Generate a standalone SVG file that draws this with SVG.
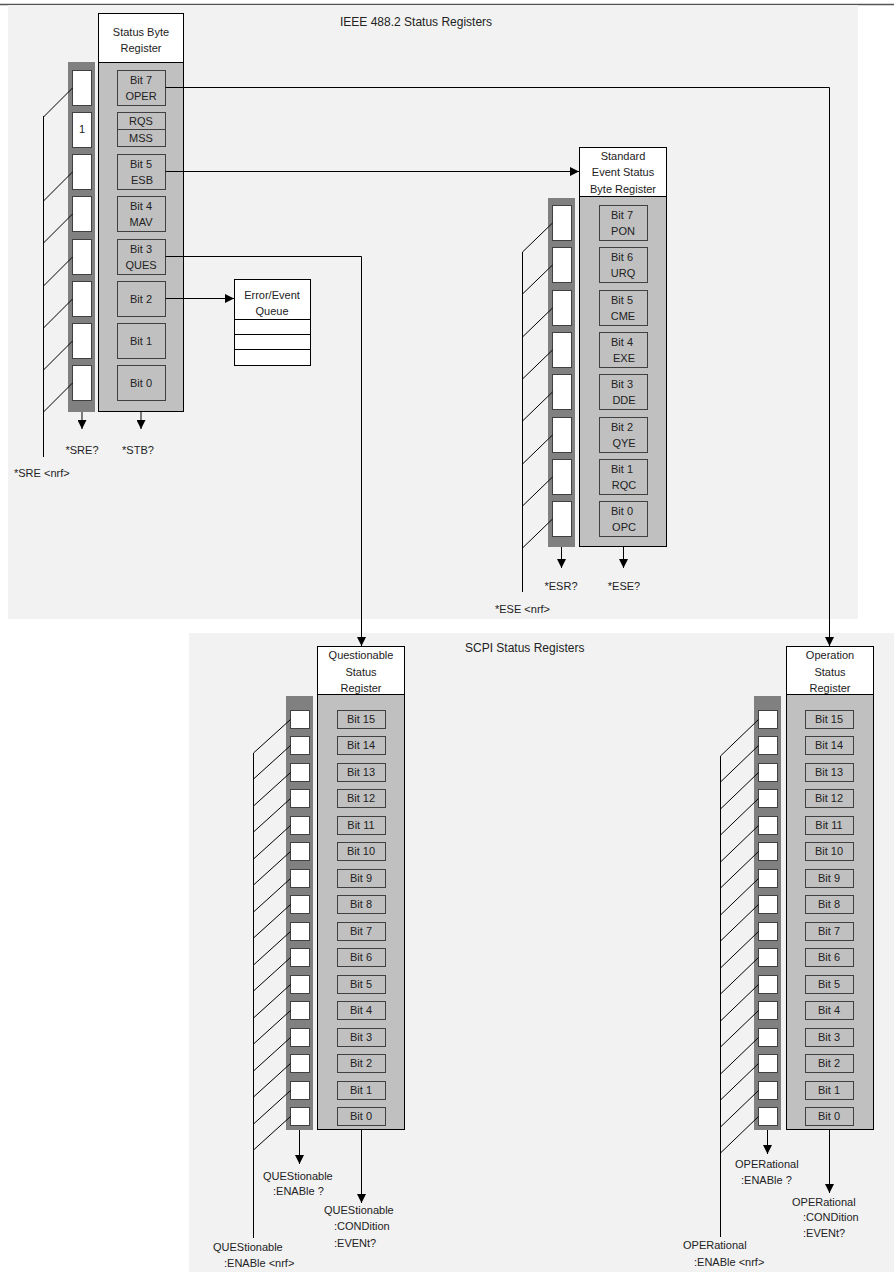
<svg xmlns="http://www.w3.org/2000/svg" width="894" height="1272" viewBox="0 0 894 1272">
<defs>
<style>
text{font-family:"Liberation Sans",Arial,sans-serif;font-size:11px;fill:#222}
.c{text-anchor:middle}
.title{font-size:12px}
.panel{fill:#f2f2f2;stroke:none}
.hdr{fill:#fff;stroke:#000;stroke-width:1}
.body{fill:#c0c0c0;stroke:#000;stroke-width:1}
.en{fill:#808080;stroke:none}
.ebox{fill:#fff;stroke:#404040;stroke-width:1}
.bit{fill:#c0c0c0;stroke:#404040;stroke-width:1}
.ln{fill:none;stroke:#000;stroke-width:1}
</style>
<marker id="ah" viewBox="0 0 10 10" refX="10" refY="5" markerWidth="9" markerHeight="9" markerUnits="userSpaceOnUse" orient="auto"><path d="M0,0 L10,5 L0,10 z" fill="#000"/></marker>
</defs>
<rect width="894" height="1272" fill="#fff"/>
<line x1="0" y1="4.5" x2="894" y2="4.5" stroke="#555" stroke-width="1.5"/>
<g id="panel-ieee">
<rect class="panel" x="8" y="5" width="850" height="614"/>
<text class="title" x="340" y="26">IEEE 488.2 Status Registers</text>
</g>
<g id="panel-scpi">
<rect class="panel" x="189" y="633" width="705" height="639"/>
<text class="title" x="465" y="652">SCPI Status Registers</text>
</g>

<g id="status-byte">
<rect class="hdr" x="98.5" y="13.5" width="85" height="49"/>
<text class="c" x="141" y="36">Status Byte</text>
<text class="c" x="141" y="52">Register</text>
<rect class="body" x="98.5" y="62.5" width="85" height="349"/>
<rect class="en" x="68" y="62" width="27" height="350"/>
<g>
<rect class="ebox" x="72.5" y="70.5" width="19" height="35"/>
<rect class="ebox" x="72.5" y="112.5" width="19" height="35"/>
<text class="c" x="82" y="133">1</text>
<rect class="ebox" x="72.5" y="154.5" width="19" height="35"/>
<rect class="ebox" x="72.5" y="196.5" width="19" height="35"/>
<rect class="ebox" x="72.5" y="239.5" width="19" height="35"/>
<rect class="ebox" x="72.5" y="281.5" width="19" height="35"/>
<rect class="ebox" x="72.5" y="323.5" width="19" height="35"/>
<rect class="ebox" x="72.5" y="365.5" width="19" height="35"/>
</g>
<rect class="bit" x="117.5" y="70.5" width="48" height="35"/>
<text class="c" x="141" y="84">Bit 7</text><text class="c" x="141" y="100">OPER</text>
<rect class="bit" x="117.5" y="112.5" width="48" height="17"/>
<rect class="bit" x="117.5" y="129.5" width="48" height="17"/>
<text class="c" x="141" y="125">RQS</text><text class="c" x="141" y="142">MSS</text>
<rect class="bit" x="117.5" y="154.5" width="48" height="35"/>
<text class="c" x="141" y="168">Bit 5</text><text class="c" x="142" y="184">ESB</text>
<rect class="bit" x="117.5" y="196.5" width="48" height="35"/>
<text class="c" x="141" y="210">Bit 4</text><text class="c" x="141" y="226">MAV</text>
<rect class="bit" x="117.5" y="239.5" width="48" height="35"/>
<text class="c" x="141" y="253">Bit 3</text><text class="c" x="141" y="269">QUES</text>
<rect class="bit" x="117.5" y="281.5" width="48" height="35"/>
<text class="c" x="141" y="303">Bit 2</text>
<rect class="bit" x="117.5" y="323.5" width="48" height="35"/>
<text class="c" x="141" y="345">Bit 1</text>
<rect class="bit" x="117.5" y="365.5" width="48" height="35"/>
<text class="c" x="141" y="387">Bit 0</text>
<text class="c" x="82" y="454">*SRE?</text>
<text class="c" x="138" y="454">*STB?</text>
<text x="14" y="477">*SRE &lt;nrf&gt;</text>
</g>

<g id="error-queue">
<rect class="hdr" x="234.5" y="279.5" width="76" height="86"/>
<text class="c" x="272" y="299">Error/Event</text>
<text class="c" x="272" y="315">Queue</text>
<line class="ln" x1="234.5" y1="319.5" x2="310.5" y2="319.5"/>
<line class="ln" x1="234.5" y1="334.5" x2="310.5" y2="334.5"/>
<line class="ln" x1="234.5" y1="349.5" x2="310.5" y2="349.5"/>
</g>

<g id="std-event">
<rect class="hdr" x="579.5" y="147.5" width="87" height="49"/>
<text class="c" x="623" y="160">Standard</text>
<text class="c" x="623" y="176">Event Status</text>
<text class="c" x="623" y="193">Byte Register</text>
<rect class="body" x="579.5" y="196.5" width="87" height="350"/>
<rect class="en" x="548" y="198" width="27" height="349"/>
<rect class="ebox" x="552.5" y="205.5" width="19" height="35"/>
<rect class="ebox" x="552.5" y="247.5" width="19" height="35"/>
<rect class="ebox" x="552.5" y="290.5" width="19" height="35"/>
<rect class="ebox" x="552.5" y="332.5" width="19" height="35"/>
<rect class="ebox" x="552.5" y="374.5" width="19" height="35"/>
<rect class="ebox" x="552.5" y="417.5" width="19" height="35"/>
<rect class="ebox" x="552.5" y="459.5" width="19" height="35"/>
<rect class="ebox" x="552.5" y="501.5" width="19" height="35"/>
<rect class="bit" x="599.5" y="205.5" width="48" height="35"/>
<text class="c" x="622" y="219">Bit 7</text><text class="c" x="623" y="235">PON</text>
<rect class="bit" x="599.5" y="247.5" width="48" height="35"/>
<text class="c" x="622" y="261">Bit 6</text><text class="c" x="623" y="277">URQ</text>
<rect class="bit" x="599.5" y="290.5" width="48" height="35"/>
<text class="c" x="622" y="304">Bit 5</text><text class="c" x="623" y="320">CME</text>
<rect class="bit" x="599.5" y="332.5" width="48" height="35"/>
<text class="c" x="622" y="346">Bit 4</text><text class="c" x="624" y="362">EXE</text>
<rect class="bit" x="599.5" y="374.5" width="48" height="35"/>
<text class="c" x="622" y="388">Bit 3</text><text class="c" x="624" y="404">DDE</text>
<rect class="bit" x="599.5" y="417.5" width="48" height="35"/>
<text class="c" x="622" y="431">Bit 2</text><text class="c" x="624" y="447">QYE</text>
<rect class="bit" x="599.5" y="459.5" width="48" height="35"/>
<text class="c" x="622" y="473">Bit 1</text><text class="c" x="624" y="489">RQC</text>
<rect class="bit" x="599.5" y="501.5" width="48" height="35"/>
<text class="c" x="622" y="515">Bit 0</text><text class="c" x="624" y="531">OPC</text>
<text class="c" x="561" y="590">*ESR?</text>
<text class="c" x="624" y="590">*ESE?</text>
<text x="495" y="613">*ESE &lt;nrf&gt;</text>
</g>

<g id="questionable">
<rect class="hdr" x="317.5" y="646.5" width="87" height="48"/>
<text class="c" x="361" y="659">Questionable</text>
<text class="c" x="361" y="676">Status</text>
<text class="c" x="361" y="692">Register</text>
<rect class="body" x="317.5" y="694.5" width="87" height="435"/>
<rect class="en" x="286" y="696" width="27" height="434"/>
<g id="q-bits">
<rect class="ebox" x="290.5" y="710.5" width="19" height="18"/><rect class="bit" x="337.5" y="710.5" width="48" height="18"/><text class="c" x="361" y="723">Bit 15</text>
<rect class="ebox" x="290.5" y="736.5" width="19" height="18"/><rect class="bit" x="337.5" y="736.5" width="48" height="18"/><text class="c" x="361" y="749">Bit 14</text>
<rect class="ebox" x="290.5" y="763.5" width="19" height="18"/><rect class="bit" x="337.5" y="763.5" width="48" height="18"/><text class="c" x="361" y="776">Bit 13</text>
<rect class="ebox" x="290.5" y="789.5" width="19" height="18"/><rect class="bit" x="337.5" y="789.5" width="48" height="18"/><text class="c" x="361" y="802">Bit 12</text>
<rect class="ebox" x="290.5" y="816.5" width="19" height="18"/><rect class="bit" x="337.5" y="816.5" width="48" height="18"/><text class="c" x="361" y="829">Bit 11</text>
<rect class="ebox" x="290.5" y="842.5" width="19" height="18"/><rect class="bit" x="337.5" y="842.5" width="48" height="18"/><text class="c" x="361" y="855">Bit 10</text>
<rect class="ebox" x="290.5" y="869.5" width="19" height="18"/><rect class="bit" x="337.5" y="869.5" width="48" height="18"/><text class="c" x="361" y="882">Bit 9</text>
<rect class="ebox" x="290.5" y="895.5" width="19" height="18"/><rect class="bit" x="337.5" y="895.5" width="48" height="18"/><text class="c" x="361" y="908">Bit 8</text>
<rect class="ebox" x="290.5" y="922.5" width="19" height="18"/><rect class="bit" x="337.5" y="922.5" width="48" height="18"/><text class="c" x="361" y="935">Bit 7</text>
<rect class="ebox" x="290.5" y="948.5" width="19" height="18"/><rect class="bit" x="337.5" y="948.5" width="48" height="18"/><text class="c" x="361" y="961">Bit 6</text>
<rect class="ebox" x="290.5" y="975.5" width="19" height="18"/><rect class="bit" x="337.5" y="975.5" width="48" height="18"/><text class="c" x="361" y="988">Bit 5</text>
<rect class="ebox" x="290.5" y="1001.5" width="19" height="18"/><rect class="bit" x="337.5" y="1001.5" width="48" height="18"/><text class="c" x="361" y="1014">Bit 4</text>
<rect class="ebox" x="290.5" y="1028.5" width="19" height="18"/><rect class="bit" x="337.5" y="1028.5" width="48" height="18"/><text class="c" x="361" y="1041">Bit 3</text>
<rect class="ebox" x="290.5" y="1054.5" width="19" height="18"/><rect class="bit" x="337.5" y="1054.5" width="48" height="18"/><text class="c" x="361" y="1067">Bit 2</text>
<rect class="ebox" x="290.5" y="1081.5" width="19" height="18"/><rect class="bit" x="337.5" y="1081.5" width="48" height="18"/><text class="c" x="361" y="1094">Bit 1</text>
<rect class="ebox" x="290.5" y="1107.5" width="19" height="18"/><rect class="bit" x="337.5" y="1107.5" width="48" height="18"/><text class="c" x="361" y="1120">Bit 0</text>
</g>
<text x="263" y="1180">QUEStionable</text>
<text x="273" y="1195">:ENABle ?</text>
<text x="324" y="1214">QUEStionable</text>
<text x="334" y="1230">:CONDition</text>
<text x="334" y="1247">:EVENt?</text>
<text x="213" y="1251">QUEStionable</text>
<text x="224" y="1267">:ENABle &lt;nrf&gt;</text>
</g>

<g id="operation">
<rect class="hdr" x="786.5" y="646.5" width="87" height="48"/>
<text class="c" x="830" y="659">Operation</text>
<text class="c" x="830" y="676">Status</text>
<text class="c" x="830" y="692">Register</text>
<rect class="body" x="786.5" y="694.5" width="87" height="435"/>
<rect class="en" x="754" y="696" width="27" height="434"/>
<g id="o-bits">
<rect class="ebox" x="758.5" y="710.5" width="19" height="18"/><rect class="bit" x="805.5" y="710.5" width="48" height="18"/><text class="c" x="829" y="723">Bit 15</text>
<rect class="ebox" x="758.5" y="736.5" width="19" height="18"/><rect class="bit" x="805.5" y="736.5" width="48" height="18"/><text class="c" x="829" y="749">Bit 14</text>
<rect class="ebox" x="758.5" y="763.5" width="19" height="18"/><rect class="bit" x="805.5" y="763.5" width="48" height="18"/><text class="c" x="829" y="776">Bit 13</text>
<rect class="ebox" x="758.5" y="789.5" width="19" height="18"/><rect class="bit" x="805.5" y="789.5" width="48" height="18"/><text class="c" x="829" y="802">Bit 12</text>
<rect class="ebox" x="758.5" y="816.5" width="19" height="18"/><rect class="bit" x="805.5" y="816.5" width="48" height="18"/><text class="c" x="829" y="829">Bit 11</text>
<rect class="ebox" x="758.5" y="842.5" width="19" height="18"/><rect class="bit" x="805.5" y="842.5" width="48" height="18"/><text class="c" x="829" y="855">Bit 10</text>
<rect class="ebox" x="758.5" y="869.5" width="19" height="18"/><rect class="bit" x="805.5" y="869.5" width="48" height="18"/><text class="c" x="829" y="882">Bit 9</text>
<rect class="ebox" x="758.5" y="895.5" width="19" height="18"/><rect class="bit" x="805.5" y="895.5" width="48" height="18"/><text class="c" x="829" y="908">Bit 8</text>
<rect class="ebox" x="758.5" y="922.5" width="19" height="18"/><rect class="bit" x="805.5" y="922.5" width="48" height="18"/><text class="c" x="829" y="935">Bit 7</text>
<rect class="ebox" x="758.5" y="948.5" width="19" height="18"/><rect class="bit" x="805.5" y="948.5" width="48" height="18"/><text class="c" x="829" y="961">Bit 6</text>
<rect class="ebox" x="758.5" y="975.5" width="19" height="18"/><rect class="bit" x="805.5" y="975.5" width="48" height="18"/><text class="c" x="829" y="988">Bit 5</text>
<rect class="ebox" x="758.5" y="1001.5" width="19" height="18"/><rect class="bit" x="805.5" y="1001.5" width="48" height="18"/><text class="c" x="829" y="1014">Bit 4</text>
<rect class="ebox" x="758.5" y="1028.5" width="19" height="18"/><rect class="bit" x="805.5" y="1028.5" width="48" height="18"/><text class="c" x="829" y="1041">Bit 3</text>
<rect class="ebox" x="758.5" y="1054.5" width="19" height="18"/><rect class="bit" x="805.5" y="1054.5" width="48" height="18"/><text class="c" x="829" y="1067">Bit 2</text>
<rect class="ebox" x="758.5" y="1081.5" width="19" height="18"/><rect class="bit" x="805.5" y="1081.5" width="48" height="18"/><text class="c" x="829" y="1094">Bit 1</text>
<rect class="ebox" x="758.5" y="1107.5" width="19" height="18"/><rect class="bit" x="805.5" y="1107.5" width="48" height="18"/><text class="c" x="829" y="1120">Bit 0</text>
</g>
<text x="735" y="1168">OPERational</text>
<text x="741" y="1184">:ENABle ?</text>
<text x="792" y="1206">OPERational</text>
<text x="803" y="1221">:CONDition</text>
<text x="803" y="1237">:EVENt?</text>
<text x="683" y="1249">OPERational</text>
<text x="694" y="1266">:ENABle &lt;nrf&gt;</text>
</g>

<g id="connectors">
<polyline class="ln" points="165.5,87.5 829.5,87.5 829.5,646" marker-end="url(#ah)"/>
<polyline class="ln" points="165.5,171.5 579,171.5" marker-end="url(#ah)"/>
<polyline class="ln" points="165.5,256.5 361.5,256.5 361.5,646" marker-end="url(#ah)"/>
<polyline class="ln" points="165.5,298.5 234,298.5" marker-end="url(#ah)"/>
<line class="ln" x1="82" y1="412" x2="82" y2="429" marker-end="url(#ah)"/>
<line class="ln" x1="141" y1="412" x2="141" y2="429" marker-end="url(#ah)"/>
<line class="ln" x1="561.5" y1="547" x2="561.5" y2="568" marker-end="url(#ah)"/>
<line class="ln" x1="623.5" y1="547" x2="623.5" y2="568" marker-end="url(#ah)"/>
<line class="ln" x1="299.5" y1="1130" x2="299.5" y2="1164" marker-end="url(#ah)"/>
<line class="ln" x1="361.5" y1="1130" x2="361.5" y2="1203" marker-end="url(#ah)"/>
<line class="ln" x1="767.5" y1="1130" x2="767.5" y2="1154" marker-end="url(#ah)"/>
<line class="ln" x1="829.5" y1="1130" x2="829.5" y2="1193" marker-end="url(#ah)"/>
<g id="sre-lines">
<line class="ln" x1="43.5" y1="116" x2="43.5" y2="457"/>
<line class="ln" x1="43.5" y1="117" x2="72.5" y2="88"/>
<line class="ln" x1="43.5" y1="201" x2="72.5" y2="172"/>
<line class="ln" x1="43.5" y1="243" x2="72.5" y2="214"/>
<line class="ln" x1="43.5" y1="286" x2="72.5" y2="257"/>
<line class="ln" x1="43.5" y1="328" x2="72.5" y2="299"/>
<line class="ln" x1="43.5" y1="370" x2="72.5" y2="341"/>
<line class="ln" x1="43.5" y1="412" x2="72.5" y2="383"/>
</g>
<g id="ese-lines">
<line class="ln" x1="522.5" y1="252" x2="522.5" y2="592"/>
<line class="ln" x1="522.5" y1="252" x2="552.5" y2="223"/>
<line class="ln" x1="522.5" y1="294" x2="552.5" y2="265"/>
<line class="ln" x1="522.5" y1="337" x2="552.5" y2="308"/>
<line class="ln" x1="522.5" y1="379" x2="552.5" y2="350"/>
<line class="ln" x1="522.5" y1="421" x2="552.5" y2="392"/>
<line class="ln" x1="522.5" y1="464" x2="552.5" y2="435"/>
<line class="ln" x1="522.5" y1="506" x2="552.5" y2="477"/>
<line class="ln" x1="522.5" y1="548" x2="552.5" y2="519"/>
</g>
<g id="ques-lines">
<line class="ln" x1="253.5" y1="753" x2="253.5" y2="1238"/>
<line class="ln" x1="253.5" y1="753" x2="290.5" y2="719.5"/>
<line class="ln" x1="253.5" y1="779" x2="290.5" y2="745.5"/>
<line class="ln" x1="253.5" y1="806" x2="290.5" y2="772.5"/>
<line class="ln" x1="253.5" y1="832" x2="290.5" y2="798.5"/>
<line class="ln" x1="253.5" y1="859" x2="290.5" y2="825.5"/>
<line class="ln" x1="253.5" y1="885" x2="290.5" y2="851.5"/>
<line class="ln" x1="253.5" y1="912" x2="290.5" y2="878.5"/>
<line class="ln" x1="253.5" y1="938" x2="290.5" y2="904.5"/>
<line class="ln" x1="253.5" y1="965" x2="290.5" y2="931.5"/>
<line class="ln" x1="253.5" y1="991" x2="290.5" y2="957.5"/>
<line class="ln" x1="253.5" y1="1018" x2="290.5" y2="984.5"/>
<line class="ln" x1="253.5" y1="1044" x2="290.5" y2="1010.5"/>
<line class="ln" x1="253.5" y1="1071" x2="290.5" y2="1037.5"/>
<line class="ln" x1="253.5" y1="1097" x2="290.5" y2="1063.5"/>
<line class="ln" x1="253.5" y1="1124" x2="290.5" y2="1090.5"/>
<line class="ln" x1="253.5" y1="1150" x2="290.5" y2="1116.5"/>
</g>
<g id="oper-lines">
<line class="ln" x1="720.5" y1="756" x2="720.5" y2="1237"/>
<line class="ln" x1="720.5" y1="756" x2="758.5" y2="719.5"/>
<line class="ln" x1="720.5" y1="782" x2="758.5" y2="745.5"/>
<line class="ln" x1="720.5" y1="809" x2="758.5" y2="772.5"/>
<line class="ln" x1="720.5" y1="835" x2="758.5" y2="798.5"/>
<line class="ln" x1="720.5" y1="862" x2="758.5" y2="825.5"/>
<line class="ln" x1="720.5" y1="888" x2="758.5" y2="851.5"/>
<line class="ln" x1="720.5" y1="915" x2="758.5" y2="878.5"/>
<line class="ln" x1="720.5" y1="941" x2="758.5" y2="904.5"/>
<line class="ln" x1="720.5" y1="968" x2="758.5" y2="931.5"/>
<line class="ln" x1="720.5" y1="994" x2="758.5" y2="957.5"/>
<line class="ln" x1="720.5" y1="1021" x2="758.5" y2="984.5"/>
<line class="ln" x1="720.5" y1="1047" x2="758.5" y2="1010.5"/>
<line class="ln" x1="720.5" y1="1074" x2="758.5" y2="1037.5"/>
<line class="ln" x1="720.5" y1="1100" x2="758.5" y2="1063.5"/>
<line class="ln" x1="720.5" y1="1127" x2="758.5" y2="1090.5"/>
<line class="ln" x1="720.5" y1="1153" x2="758.5" y2="1116.5"/>
</g>
</g>
</svg>
